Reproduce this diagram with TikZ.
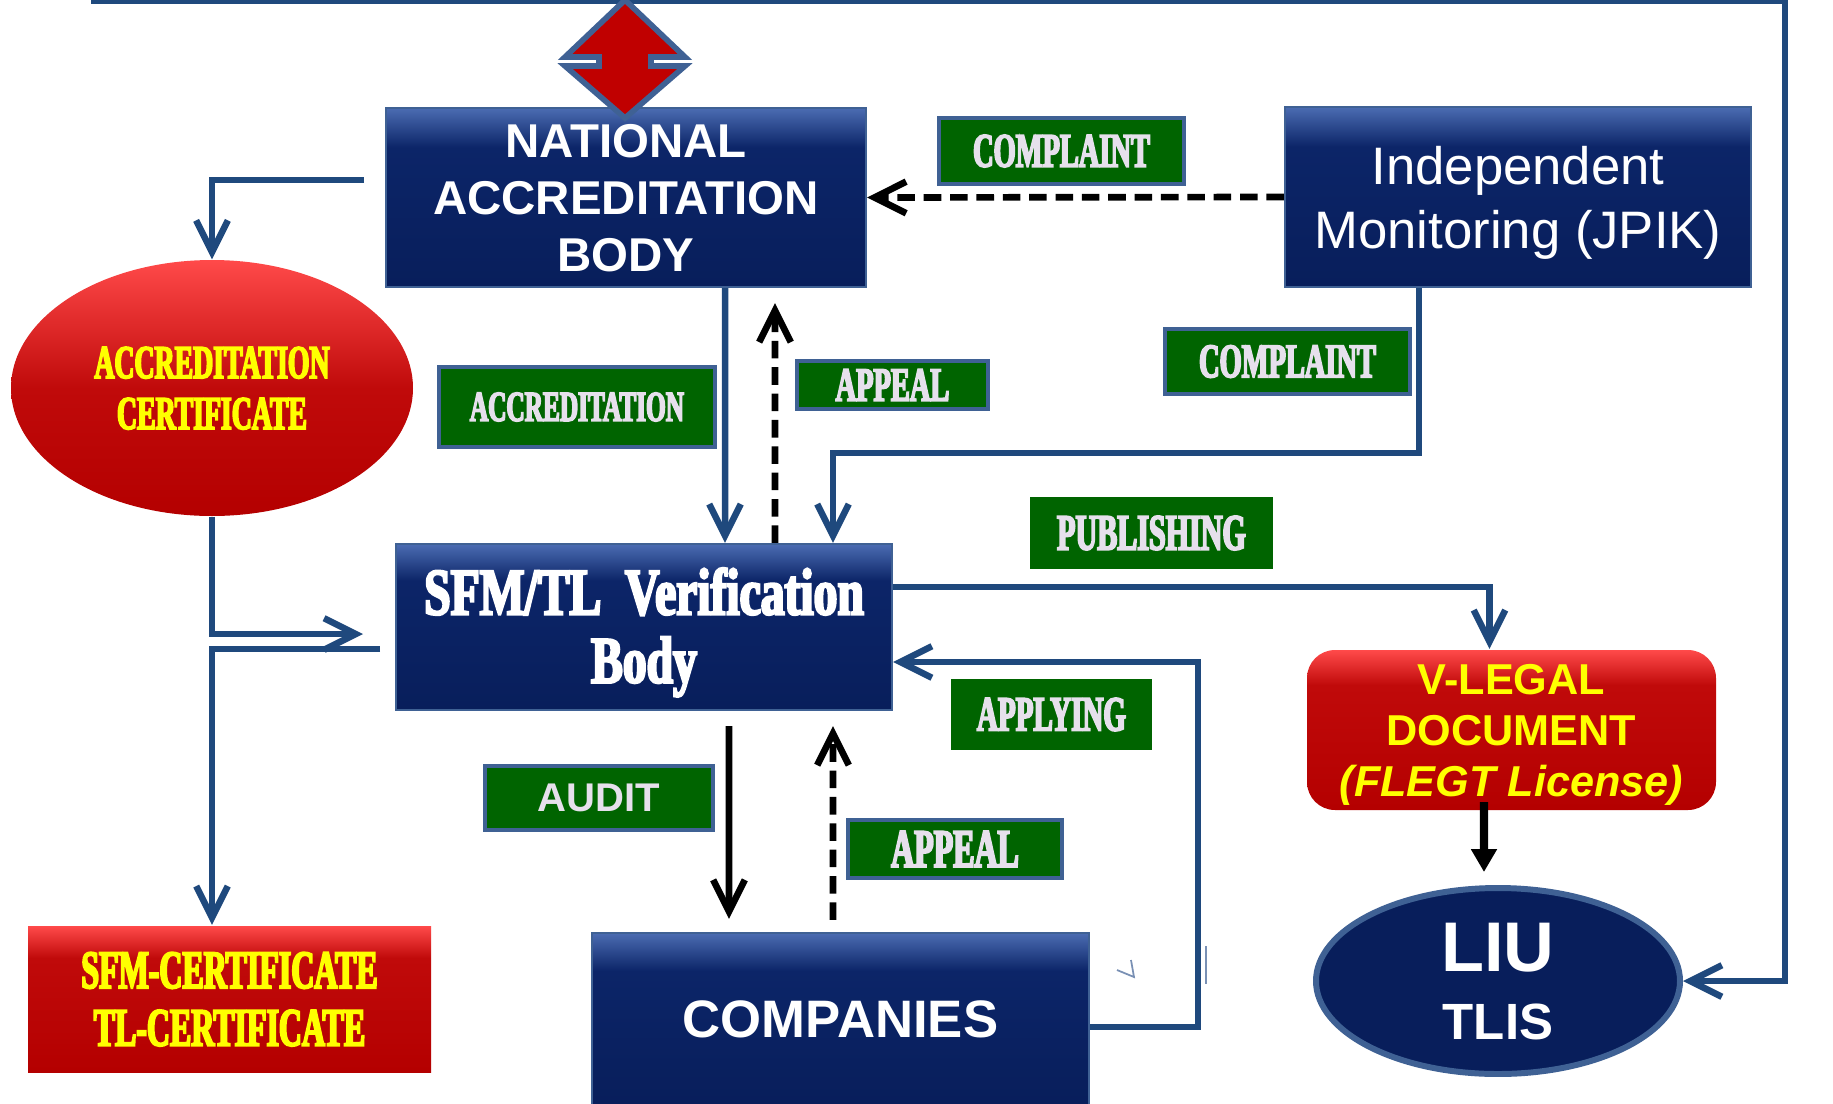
\documentclass[tikz,border=0pt]{standalone}
\usepackage{fontspec}
\setmainfont{Liberation Sans}
\newfontfamily\condfont[FakeStretch=0.59, FakeBold=3.5]{Liberation Serif}
\newfontfamily\condwide[FakeStretch=0.72, FakeBold=3.5]{Liberation Serif}
\usetikzlibrary{arrows.meta,shapes.geometric}
\definecolor{navyD}{HTML}{081E5B}
\definecolor{navyM}{HTML}{0C2568}
\definecolor{navyL}{HTML}{4B6CB2}
\definecolor{redD}{HTML}{B40000}
\definecolor{redM}{HTML}{C00A0A}
\definecolor{redL}{HTML}{FF4A4A}
\definecolor{linkblue}{HTML}{1F497D}
\definecolor{frameblue}{HTML}{3F6194}
\definecolor{lblgreen}{HTML}{006400}
\definecolor{lbltext}{HTML}{E6E0EC}
\definecolor{certyellow}{HTML}{FFFF00}
\definecolor{diamondred}{HTML}{C00000}
\pgfdeclareverticalshading{navybevel}{100bp}{color(0bp)=(navyD); color(25bp)=(navyD); color(64bp)=(navyM); color(75bp)=(navyL); color(100bp)=(navyL)}
\pgfdeclareverticalshading{redbevel}{100bp}{color(0bp)=(redD); color(25bp)=(redD); color(64bp)=(redM); color(75bp)=(redL); color(100bp)=(redL)}
\pgfdeclareverticalshading{redball}{100bp}{color(0bp)=(redD); color(25bp)=(redD); color(50bp)=(redM); color(75bp)=(redL); color(100bp)=(redL)}
\begin{document}
\begin{tikzpicture}[x=0.1mm, y=-0.1mm, >={Straight Barb[length=9pt,width=9pt]},
    box/.style={shade, shading=navybevel, draw=frameblue, line width=0.6pt, inner sep=0pt, text=white, align=center, text depth=0pt},
    redbox/.style={box, shading=redbevel, draw=none, text=certyellow},
    lbl/.style={fill=lblgreen, draw=frameblue, line width=1.2pt, inner sep=0pt, text=lbltext},
    link/.style={draw=linkblue, line width=1.85pt, ->},
    blk/.style={draw=black, line width=1.9pt, ->},
    blkdash/.style={blk, dash pattern=on 5pt off 2.5pt}]
    \useasboundingbox (0,0) rectangle (1833,1104);
    % boxes
    \node[box, minimum width=48mm, minimum height=17.9mm, font=\bfseries\fontsize{13.5}{16.2}\selectfont] (nab) at (626,197.5) {NATIONAL\\ACCREDITATION\\BODY};
    \node[box, minimum width=46.6mm, minimum height=18mm, font=\fontsize{15}{18.2}\selectfont] (jpik) at (1518,197) {Independent\\Monitoring (JPIK)};
    \node[box, minimum width=49.6mm, minimum height=16.6mm, font=\condwide\bfseries\fontsize{18.8}{19.4}\selectfont, text depth=1pt] (sfm) at (644,627) {SFM/TL\ \ Verification\\Body};
    \node[box, minimum width=49.7mm, minimum height=17.2mm, font=\bfseries\fontsize{15}{18}\selectfont] (comp) at (840.5,1019) {COMPANIES};
    \node[redbox, rounded corners=2.8mm, minimum width=40.9mm, minimum height=16mm, font=\bfseries\fontsize{12.3}{14.5}\selectfont] (vlegal) at (1511.5,730) {V-LEGAL\\DOCUMENT\\\textit{(FLEGT License)}};
    \node[redbox, minimum width=40.3mm, minimum height=14.6mm, font=\condfont\bfseries\fontsize{15.4}{16.4}\selectfont] (sfmcert) at (229.5,999) {SFM-CERTIFICATE\\TL-CERTIFICATE};
    \node[ellipse, shade, shading=redball, minimum width=40.2mm, minimum height=25.6mm, inner sep=0pt, text=certyellow, align=center, text depth=0pt, font=\condfont\bfseries\fontsize{13.4}{14.5}\selectfont] (cert) at (212,388) {ACCREDITATION\\CERTIFICATE};
    \node[ellipse, fill=navyD, draw=frameblue, line width=1.7pt, minimum width=36.4mm, minimum height=18.6mm, inner sep=0pt, text=white, align=center, text depth=0pt, font=\bfseries\fontsize{14.5}{19.3}\selectfont] (liu) at (1498,981) {{\fontsize{20}{20}\selectfont LIU}\\TLIS};
    % labels
    \node[lbl, minimum width=24.5mm, minimum height=6.6mm, font=\condfont\bfseries\fontsize{13.7}{14}\selectfont] (cmp1) at (1061.5,151) {COMPLAINT};
    \node[lbl, minimum width=24.5mm, minimum height=6.5mm, font=\condfont\bfseries\fontsize{13.7}{14}\selectfont] (cmp2) at (1287.5,361.5) {COMPLAINT};
    \node[lbl, minimum width=19.1mm, minimum height=4.8mm, font=\condfont\bfseries\fontsize{13.7}{14}\selectfont] (app1) at (892.5,385) {APPEAL};
    \node[lbl, minimum width=27.6mm, minimum height=8mm, font=\condfont\bfseries\fontsize{12.2}{13}\selectfont] (accr) at (577,407) {ACCREDITATION};
    \node[lbl, draw=none, minimum width=24.3mm, minimum height=7.2mm, font=\condfont\bfseries\fontsize{14.5}{15}\selectfont] (pub) at (1151.5,533) {PUBLISHING};
    \node[lbl, draw=none, minimum width=20.1mm, minimum height=7.1mm, font=\condfont\bfseries\fontsize{14}{15}\selectfont] (apply) at (1051.5,714.5) {APPLYING};
    \node[lbl, minimum width=21.4mm, minimum height=5.8mm, font=\condfont\bfseries\fontsize{15.4}{16}\selectfont] (app2) at (955,849) {APPEAL};
    \node[lbl, minimum width=22.8mm, minimum height=6.4mm, font=\bfseries\fontsize{11.4}{12}\selectfont] (audit) at (599,798) {AUDIT};
    % connectors
    \coordinate (topL) at (91,1);
    \coordinate (topR) at (1785,1);
    \coordinate (nabL) at (364,180);
    \coordinate (sfmIn) at (363,634);
    \coordinate (sfmOut) at (380,649);
    \draw[link] (topL) -- (topR) |- (liu.east);
    \draw[link] (nabL) -| (cert.north);
    \draw[link] (cert.south) |- (sfmIn);
    \draw[link] (sfmOut) -| (cert.south |- sfmcert.north);
    \draw[link] ([xshift=9.9mm]nab.south) -- ([xshift=8.1mm]sfm.north);
    \draw[blkdash] ([xshift=13.1mm]sfm.north) -- ([xshift=14.9mm,yshift=-1.5mm]nab.south);
    \draw[link] ([xshift=-9.9mm]jpik.south) -- ++(0,165) -| ([xshift=18.9mm]sfm.north);
    \draw[blkdash] (jpik.west) -- (nab.east);
    \draw[link] ([yshift=4mm]sfm.east) -| ([xshift=-2.2mm]vlegal.north);
    \draw[link] ([yshift=-0.8mm]comp.east) -- ++(108,0) |- ([yshift=-3.5mm]sfm.east);
    \draw[blk] ([xshift=8.5mm,yshift=-1.5mm]sfm.south) -- ([xshift=-11.15mm,yshift=1.3mm]comp.north);
    \draw[blkdash] ([xshift=-0.75mm,yshift=1.2mm]comp.north) -- ([xshift=18.9mm,yshift=-1.5mm]sfm.south);
    \draw[black, line width=2.3pt, -{Triangle[length=6.5pt,width=7pt]}] ([xshift=-2.75mm,yshift=0.9mm]vlegal.south) -- ([xshift=-1.4mm,yshift=1.3mm]liu.north);
    % double arrow on top
    \filldraw[draw=frameblue, fill=diamondred, line width=1.6pt] (625,0) -- (685,57) -- (651,57) -- (651,66) -- (685,66) -- (625,118) -- (565,66) -- (599,66) -- (599,57) -- (565,57) -- cycle;
    \draw[frameblue!70!white, line width=0.4pt] (1206,946) -- (1206,984);
    \draw[frameblue!70!white, line width=0.5pt] (1117,970) -- (1134,977) -- (1131,960);
\end{tikzpicture}
\end{document}
